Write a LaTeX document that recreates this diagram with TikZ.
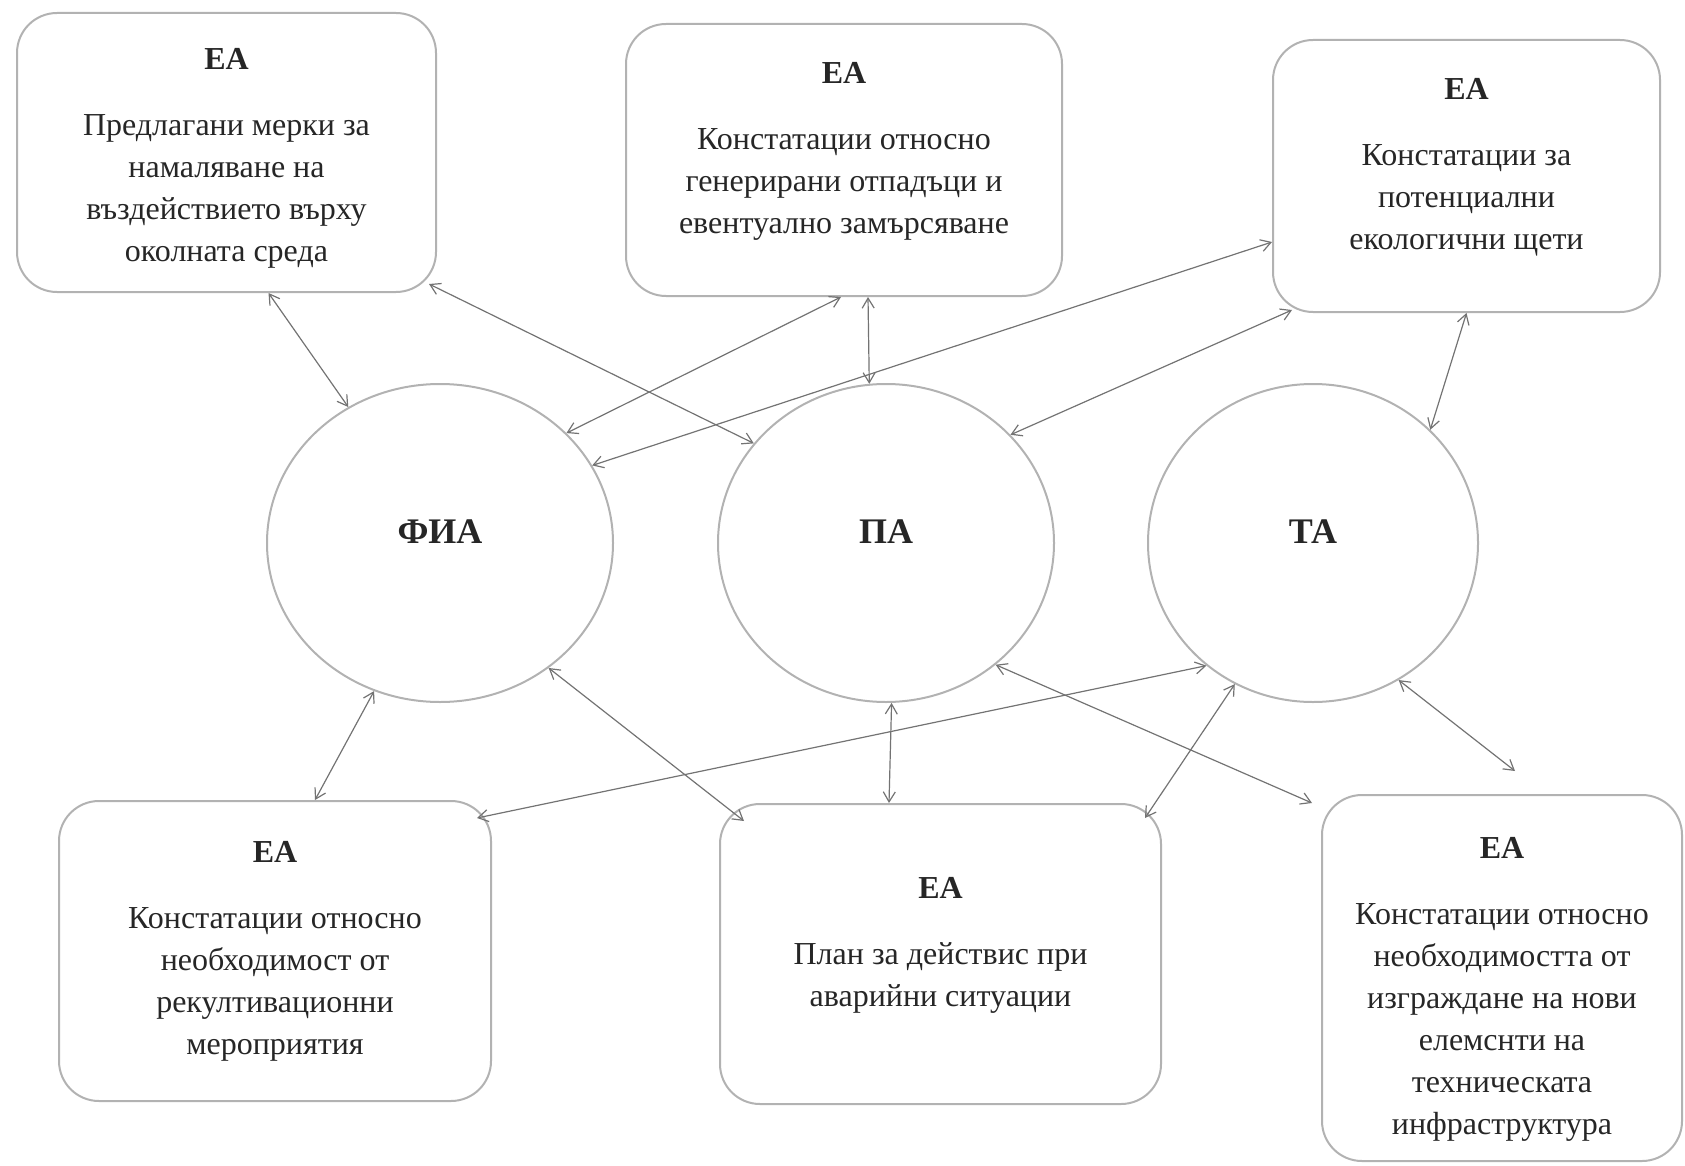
\documentclass[tikz,border=0pt]{standalone}
\usepackage{fontspec}
\setmainfont{Liberation Serif}
\usetikzlibrary{arrows.meta,shapes.geometric}

\definecolor{linegray}{gray}{0.45}
\definecolor{bordergray}{gray}{0.7}
\definecolor{textgray}{gray}{0.15}

\begin{document}
\begin{tikzpicture}[<->,>={Straight Barb[length=5pt,width=6pt]},x=0.5pt,y=-0.5pt,
  every edge/.append style={draw=linegray,line width=0.6pt},
  eabox/.style={draw=bordergray,line width=1pt,rounded corners=20pt,
    align=center,text=textgray,inner sep=0pt,
    font=\fontsize{16}{21}\selectfont},
  analysis/.style={ellipse,draw=bordergray,line width=1pt,
    minimum width=168pt,minimum height=159pt,text depth=11pt,
    text=textgray,font=\fontsize{18}{22}\selectfont\bfseries}]
\useasboundingbox (0,0) rectangle (1685,1166);

% upper row
\node[eabox,minimum width=209.5pt,minimum height=139.5pt] (b1) at (226.5,152.5)
  {\rule{0pt}{16.5pt}\textbf{ЕА}\\[12pt] Предлагани мерки за\\ намаляване на\\ въздействието върху\\ околната среда};
\node[eabox,minimum width=218pt,minimum height=136pt] (b2) at (844,160)
  {\textbf{ЕА}\\[12pt] Констатации относно\\ генерирани отпадъци и\\ евентуално замърсяване\rule[-12pt]{0pt}{0pt}};
\node[eabox,minimum width=193.5pt,minimum height=136pt] (b3) at (1466.5,176)
  {\textbf{ЕА}\\[12pt] Констатации за\\ потенциални\\ екологични щети\rule[-12pt]{0pt}{0pt}};

% analyses
\node[analysis,minimum width=173pt] (fia) at (440,543) {ФИА};
\node[analysis] (pa) at (886,543) {ПА};
\node[analysis,minimum width=165pt] (ta) at (1313,543) {ТА};

% lower row
\node[eabox,minimum width=216pt,minimum height=150pt] (b4) at (275,951)
  {\textbf{ЕА}\\[12pt] Констатации относно\\ необходимост от\\ рекултивационни\\ мероприятия};
\node[eabox,minimum width=220.5pt,minimum height=150pt] (b5) at (940.5,954)
  {\textbf{ЕА}\\[12pt] План за действис при\\ аварийни ситуации\rule[-12pt]{0pt}{0pt}};
\node[eabox,minimum width=180pt,minimum height=183pt] (b6) at (1502,978)
  {\rule{0pt}{21.5pt}\textbf{ЕА}\\[12pt] Констатации относно\\ необходимостта от\\ изграждане на нови\\ елемснти на\\ техническата\\ инфраструктура};

\path ([xshift=21pt]b1.south) edge (fia.124);
\path ([xshift=-4pt,yshift=4.5pt]b1.south east) edge (pa.143);
\path ([xshift=-1.5pt]b2.south) edge (fia.41);
\path ([xshift=12pt]b2.south) edge (pa.96);
\path ([yshift=-33pt]b3.west) edge (fia.27);
\path ([xshift=10pt,yshift=1.5pt]b3.south west) edge (pa.41);
\path (b3.south) edge (ta.44);
\path (fia.-114) edge ([xshift=20pt]b4.north);
\path ([xshift=-7.5pt,yshift=-9pt]b4.north east) edge (ta.-131);
\path (fia.-49) edge ([xshift=12.5pt,yshift=-9pt]b5.north west);
\path (pa.-88) edge ([xshift=-25.75pt]b5.north);
\path (pa.-48) edge ([xshift=-4.5pt,yshift=-4.5pt]b6.north west);
\path (ta.-119) edge ([xshift=-8.5pt,yshift=-7.5pt]b5.north east);
\path (ta.-58) edge ([xshift=6.5pt,yshift=11.5pt]b6.north);
\end{tikzpicture}
\end{document}
